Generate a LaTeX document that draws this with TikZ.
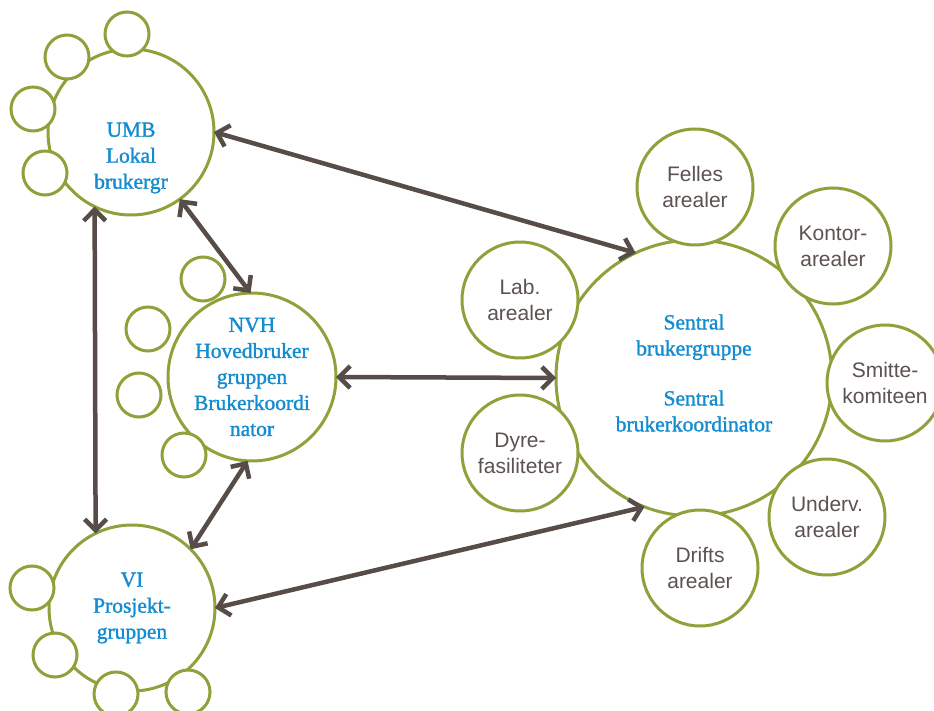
\documentclass[tikz,border=0pt]{standalone}
\usepackage{fontspec}
\setmainfont{Liberation Sans}
\newfontfamily\bluefont[FakeBold=1.4]{Liberation Serif}
\usetikzlibrary{arrows.meta}
\definecolor{ringgreen}{RGB}{143,161,58}
\definecolor{arrowbrown}{RGB}{88,76,72}
\definecolor{txtblue}{RGB}{20,141,208}
\definecolor{txtgray}{RGB}{92,82,80}
\begin{document}
\begin{tikzpicture}[x=1pt,y=-1pt,
  ring/.style={circle, draw=ringgreen, line width=3pt, fill=white, inner sep=0pt, outer sep=0pt, minimum size=#1, align=center},
  bigring/.style={ring=#1, font=\bluefont\fontsize{21.5}{26}\selectfont, text=txtblue},
  satring/.style={ring=116pt, font=\fontsize{21}{26}\selectfont, text=txtgray},
  tinyring/.style={ring=44pt},
  bluetext/.style={font=\bluefont\fontsize{21.5}{26}\selectfont, text=txtblue, align=center, inner sep=0pt},
  link/.style={draw=arrowbrown, line width=4.5pt, {Straight Barb[length=11pt,width=22pt]}-{Straight Barb[length=11pt,width=22pt]}}
]
\clip (0,0) rectangle (934,711);
\fill[white] (0,0) rectangle (934,711);

% big circles
\node[bigring=166pt] (umb) at (131,132) {};
\node[bluetext] (umbtext) at (131,158) {UMB\\Lokal\\brukergr};
\node[bigring=168pt] (nvh) at (252,377) {NVH\\Hovedbruker\\gruppen\\Brukerkoordi\\nator};
\node[bigring=166pt] (vi) at (132,608) {VI\\Prosjekt-\\gruppen};
\node[bigring=276pt] (sentral) at (694,378) {};
\node[bluetext] (sentraltext) at (694,373) {Sentral\\brukergruppe\\[24pt]Sentral\\brukerkoordinator};

% small circles around UMB
\node[tinyring] (u1) at (67,57) {};
\node[tinyring] (u2) at (127,34) {};
\node[tinyring] (u3) at (33,109) {};
\node[tinyring] (u4) at (45,173) {};
% small circles around NVH
\node[tinyring] (n1) at (203,279) {};
\node[tinyring] (n2) at (148,329) {};
\node[tinyring] (n3) at (139,395) {};
\node[tinyring] (n4) at (184,455) {};
% small circles around VI
\node[tinyring] (v1) at (32,588) {};
\node[tinyring] (v2) at (55,655) {};
\node[tinyring] (v3) at (116,694) {};
\node[tinyring] (v4) at (188,692) {};

% satellites around Sentral
\node[satring] (felles) at (695,187) {Felles\\arealer};
\node[satring] (kontor) at (833,246) {Kontor-\\arealer};
\node[satring] (smitte) at (885,383) {Smitte-\\komiteen};
\node[satring] (underv) at (827,517) {Underv.\\arealer};
\node[satring] (drifts) at (700,568) {Drifts\\arealer};
\node[satring] (lab) at (520,300) {Lab.\\arealer};
\node[satring] (dyre) at (520,453) {Dyre-\\fasiliteter};

% connectors
\draw[link] (umb.0) -- (sentral.115);
\draw[link] (umb.-54) -- (nvh.91);
\draw[link] (umb.244) -- (vi.116);
\draw[link] (nvh.0) -- (sentral.180);
\draw[link] (nvh.-93) -- (vi.45);
\draw[link] (vi.0) -- (sentral.-111);
\end{tikzpicture}
\end{document}
